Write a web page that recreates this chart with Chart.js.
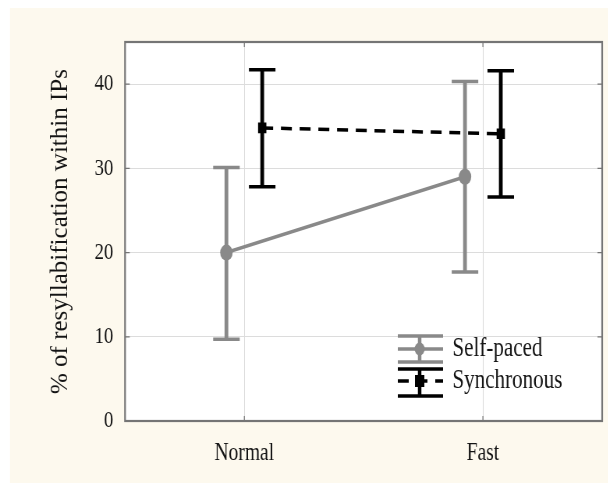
<!DOCTYPE html>
<html><head><meta charset="utf-8">
<script src="https://cdn.jsdelivr.net/npm/chart.js@4/dist/chart.umd.min.js"></script>
<style>
html,body{margin:0;padding:0;background:#fff;overflow:hidden}
#wrap{position:absolute;left:0;top:0;width:780px;height:485px;transform:scaleX(0.78);transform-origin:0 0}
</style></head>
<body><div id="wrap"><canvas id="c" width="780" height="485"></canvas></div>
<script>
// ---- data ----
const categories = ['Normal', 'Fast'];
const seriesNames = ['Self-paced', 'Synchronous'];
const selfPacedMean = [20.0, 29.0];
const selfPacedLow = [9.7, 17.7];
const selfPacedHigh = [30.1, 40.3];
const synchronousMean = [34.8, 34.1];
const synchronousLow = [27.8, 26.6];
const synchronousHigh = [41.7, 41.6];
const yTicks = [0, 10, 20, 30, 40];
const yTitle = '% of resyllabification within IPs';

// ---- styling ----
const SQUEEZE = 0.78;
const GRAY = '#898989';
const BLACK = '#000000';
const FRAME = '#757575';
const GRID = '#dcdcdc';
const TEXT = '#141414';
const FONT = "'Liberation Serif', 'Times New Roman', serif";
const DODGE = 0.075;

function pts(vals, shift) { return vals.map((v, i) => ({x: i + shift, y: v})); }

const errorBars = {
  id: 'errorBars',
  beforeDatasetsDraw(chart) {
    const ctx = chart.ctx, ys = chart.scales.y;
    chart.data.datasets.forEach((ds, di) => {
      const meta = chart.getDatasetMeta(di);
      ctx.save();
      ctx.strokeStyle = ds.borderColor;
      ctx.setLineDash([]);
      meta.data.forEach((el, i) => {
        const x = el.x;
        const yl = ys.getPixelForValue(ds.errLow[i]);
        const yh = ys.getPixelForValue(ds.errHigh[i]);
        ctx.lineWidth = 4.8;
        ctx.beginPath();
        ctx.moveTo(x, yl); ctx.lineTo(x, yh);
        ctx.stroke();
        ctx.lineWidth = 3.5;
        ctx.beginPath();
        ctx.moveTo(x - 17, yl); ctx.lineTo(x + 17, yl);
        ctx.moveTo(x - 17, yh); ctx.lineTo(x + 17, yh);
        ctx.stroke();
      });
      ctx.restore();
    });
  }
};

const decor = {
  id: 'decor',
  beforeDraw(chart) {
    const ctx = chart.ctx, a = chart.chartArea;
    ctx.save();
    ctx.fillStyle = '#ffffff';
    ctx.fillRect(0, 0, chart.width, chart.height);
    ctx.fillStyle = '#fdf9ee';
    ctx.fillRect(12.8, 8, chart.width - 12.8, 475);
    ctx.fillStyle = '#ffffff';
    ctx.fillRect(a.left, a.top, a.right - a.left, a.bottom - a.top);
    ctx.restore();
  },
  afterDraw(chart) {
    const ctx = chart.ctx, a = chart.chartArea;
    const xs = chart.scales.x, ys = chart.scales.y;
    ctx.save();
    ctx.strokeStyle = FRAME;
    ctx.lineWidth = 1.2;
    ctx.beginPath();
    ys.ticks.forEach(t => {
      const y = ys.getPixelForValue(t.value);
      ctx.moveTo(a.left, y); ctx.lineTo(a.left + 6, y);
      ctx.moveTo(a.right, y); ctx.lineTo(a.right - 6, y);
    });
    xs.ticks.forEach(t => {
      const x = xs.getPixelForValue(t.value);
      ctx.moveTo(x, a.top); ctx.lineTo(x, a.top + 5);
      ctx.moveTo(x, a.bottom); ctx.lineTo(x, a.bottom - 5);
    });
    ctx.stroke();
    ctx.lineWidth = 2.2;
    ctx.strokeRect(a.left, a.top, a.right - a.left, a.bottom - a.top);

    // y axis title (drawn unsqueezed, rotated)
    ctx.save();
    ctx.translate(78, (a.top + a.bottom) / 2);
    ctx.scale(1 / SQUEEZE, 1);
    ctx.rotate(-Math.PI / 2);
    ctx.fillStyle = TEXT;
    ctx.font = '25px ' + FONT;
    ctx.textAlign = 'center';
    ctx.textBaseline = 'middle';
    ctx.fillText(yTitle, 0, 0);
    ctx.restore();

    // legend
    const ds = chart.data.datasets;
    const rows = [{mid: a.bottom - 72, top: a.bottom - 85, bot: a.bottom - 59},
                  {mid: a.bottom - 40, top: a.bottom - 52, bot: a.bottom - 25}];
    const x0 = a.right - 262, x1 = a.right - 204, xc = a.right - 234, xt = a.right - 192;
    ds.forEach((d, i) => {
      const r = rows[i];
      ctx.strokeStyle = d.borderColor;
      ctx.fillStyle = d.borderColor;
      ctx.lineWidth = 3.5;
      ctx.setLineDash([]);
      ctx.beginPath();
      ctx.moveTo(x0, r.top); ctx.lineTo(x1, r.top);
      ctx.moveTo(x0, r.bot); ctx.lineTo(x1, r.bot);
      ctx.stroke();
      ctx.lineWidth = 4.5;
      ctx.beginPath();
      ctx.moveTo(xc, r.top); ctx.lineTo(xc, r.bot);
      ctx.stroke();
      ctx.lineWidth = 3.5;
      ctx.setLineDash(d.borderDash || []);
      ctx.beginPath();
      ctx.moveTo(x0, r.mid); ctx.lineTo(x1, r.mid);
      ctx.stroke();
      ctx.setLineDash([]);
      if (d.pointStyle === 'rect') {
        ctx.fillRect(xc - 6, r.mid - 6, 12, 12);
      } else {
        ctx.beginPath(); ctx.arc(xc, r.mid, 6.5, 0, Math.PI * 2); ctx.fill();
      }
      ctx.fillStyle = TEXT;
      ctx.font = '27px ' + FONT;
      ctx.textBaseline = 'middle';
      ctx.textAlign = 'left';
      ctx.fillText(d.label, xt, r.mid);
    });
    ctx.restore();
  }
};

new Chart(document.getElementById('c'), {
  type: 'line',
  data: {
    datasets: [
      {
        label: seriesNames[0],
        data: pts(selfPacedMean, -DODGE),
        errLow: selfPacedLow, errHigh: selfPacedHigh,
        borderColor: GRAY, backgroundColor: GRAY,
        borderWidth: 3.5, pointStyle: 'circle', pointRadius: 8,
        pointBorderWidth: 0, pointBackgroundColor: GRAY
      },
      {
        label: seriesNames[1],
        data: pts(synchronousMean, DODGE),
        errLow: synchronousLow, errHigh: synchronousHigh,
        borderColor: BLACK, backgroundColor: BLACK,
        borderWidth: 3.5, borderDash: [14, 10], pointStyle: 'rect', pointRadius: 7.5,
        pointBorderWidth: 0, pointBackgroundColor: BLACK
      }
    ]
  },
  options: {
    responsive: false,
    animation: false,
    devicePixelRatio: 1,
    layout: {padding: {left: 0, top: 42, right: 4.4, bottom: 0}},
    plugins: {legend: {display: false}, tooltip: {enabled: false}},
    scales: {
      x: {
        type: 'linear', min: -0.5, max: 1.5,
        afterBuildTicks(axis) { axis.ticks = categories.map((c, i) => ({value: i})); },
        afterFit(axis) { axis.height = 64; },
        grid: {color: GRID, lineWidth: 1, drawTicks: false},
        border: {display: false},
        ticks: {
          callback: (v) => categories[v],
          color: TEXT, padding: 17, maxRotation: 0, autoSkip: false,
          font: {family: FONT, size: 25}
        }
      },
      y: {
        min: 0, max: 45,
        afterBuildTicks(axis) { axis.ticks = yTicks.map(v => ({value: v})); },
        afterFit(axis) { axis.width = 160.3; },
        grid: {color: GRID, lineWidth: 1, drawTicks: false},
        border: {display: false},
        ticks: {color: TEXT, padding: 15, font: {family: FONT, size: 24}},
        title: {display: false}
      }
    }
  },
  plugins: [decor, errorBars]
});
</script>
</body></html>
